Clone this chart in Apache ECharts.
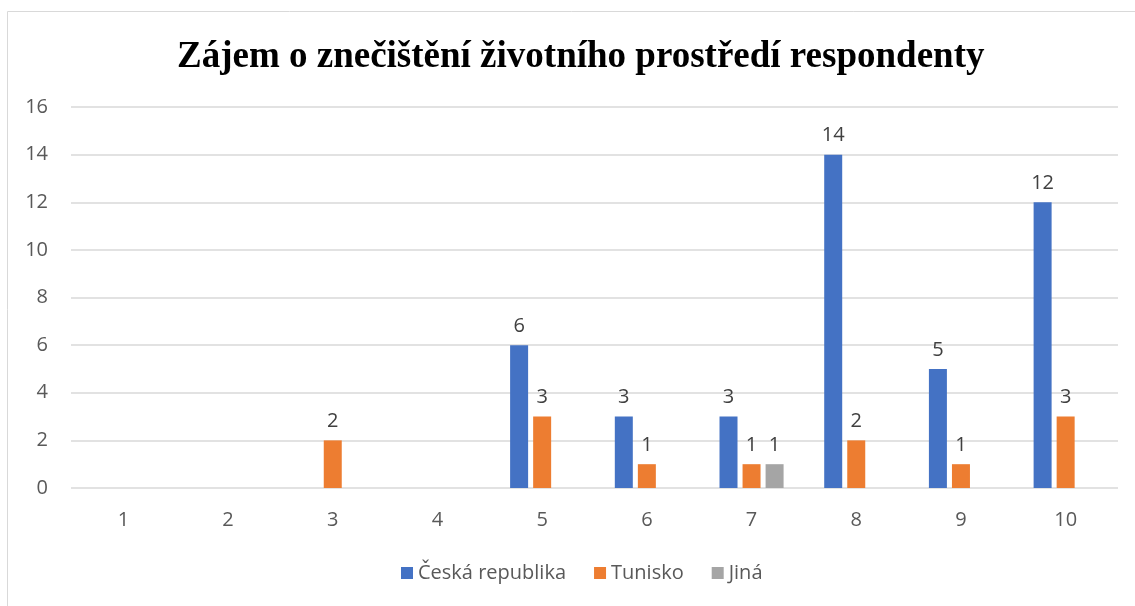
<!DOCTYPE html>
<html lang="cs">
<head>
    <meta charset="UTF-8"/>
    <script src="https://cdn.jsdelivr.net/npm/echarts@6/dist/echarts.min.js"></script>
    <title>zajem_znecisteni</title>
    <style>
        html, body { margin: 0; padding: 0; background: #fff; }
        #main { width: 1135px; height: 606px; }
    </style>
</head>
<body>
<div id="main"></div>
<script type="text/javascript">
    // data
    var categories = ['1', '2', '3', '4', '5', '6', '7', '8', '9', '10'];
    var czech = [0, 0, 0, 0, 6, 3, 3, 14, 5, 12];
    var tunisia = [0, 0, 2, 0, 3, 1, 1, 2, 1, 3];
    var other = [0, 0, 0, 0, 0, 0, 1, 0, 0, 0];

    var myChart = echarts.init(document.getElementById('main'));

    var labelFont = 'Open Sans, Noto Sans, Liberation Sans, sans-serif';

    function makeSeries(name, values, color) {
        return {
            name: name,
            type: 'bar',
            barWidth: 18,
            barGap: '28%',
            data: values,
            itemStyle: { color: color },
            label: {
                show: true,
                position: 'top',
                distance: 9,
                color: '#404040',
                fontSize: 20,
                fontFamily: labelFont,
                formatter: function (p) { return p.value === 0 ? '' : p.value; }
            }
        };
    }

    var option = {
        animation: false,
        title: {
            text: 'Zájem o znečištění životního prostředí respondenty',
            left: 172,
            top: 34,
            textStyle: {
                fontFamily: 'Liberation Serif, Times New Roman, serif',
                fontWeight: 'bold',
                fontSize: 37,
                color: '#000'
            }
        },
        graphic: [{
            type: 'rect',
            shape: { x: 7.5, y: 11.5, width: 1200, height: 700 },
            style: { fill: 'none', stroke: '#d9d9d9', lineWidth: 1 },
            silent: true
        }],
        legend: {
            bottom: 18,
            left: 396,
            itemWidth: 12,
            itemHeight: 12,
            itemGap: 28,
            icon: 'rect',
            textStyle: { color: '#595959', fontSize: 20, fontFamily: labelFont },
            data: ['Česká republika', 'Tunisko', 'Jiná']
        },
        grid: { left: 71, right: 17, top: 107, bottom: 118 },
        xAxis: {
            type: 'category',
            data: categories,
            axisLine: { show: false },
            axisTick: { show: false },
            axisLabel: { color: '#595959', fontSize: 20, fontFamily: labelFont, margin: 22 }
        },
        yAxis: {
            type: 'value',
            min: 0,
            max: 16,
            interval: 2,
            axisLine: { show: false },
            axisTick: { show: false },
            axisLabel: { color: '#595959', fontSize: 20, fontFamily: labelFont, margin: 23 },
            splitLine: { lineStyle: { color: '#d9d9d9', width: 1.5 } }
        },
        series: [
            makeSeries('Česká republika', czech, '#4472C4'),
            makeSeries('Tunisko', tunisia, '#ED7D31'),
            makeSeries('Jiná', other, '#A5A5A5')
        ]
    };

    myChart.setOption(option);
</script>
</body>
</html>
